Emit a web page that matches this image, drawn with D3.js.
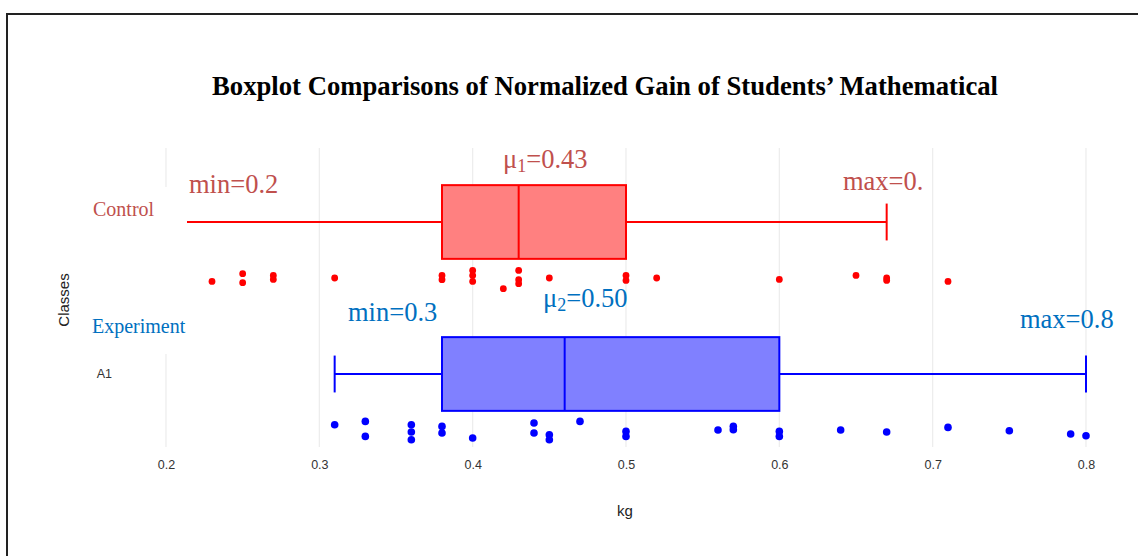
<!DOCTYPE html>
<html>
<head>
<meta charset="utf-8">
<script src="https://cdn.jsdelivr.net/npm/d3@7"></script>
<style>
  body { margin: 0; background: #fff; }
  svg { display: block; }
</style>
</head>
<body>
<div id="chart"></div>
<script>
const W = 1138, H = 556;

// groups and their axis labels
const groups = ["Control", "Experiment"];
const axisLabels = ["", "A1"];
const boxColors = ["#ff0000", "#0000ff"];
const fillColors = ["#ff8080", "#8080ff"];

// box statistics per group: lower whisker, q1, median, q3, upper whisker
const whiskLo = [0.2, 0.31];
const q1s = [0.38, 0.38];
const medians = [0.43, 0.46];
const q3s = [0.5, 0.6];
const whiskHi = [0.67, 0.8];

// raw points (kg) with their jitter (-1..1)
const controlKg = [0.23, 0.25, 0.25, 0.27, 0.27, 0.31, 0.38, 0.38, 0.40, 0.40, 0.40, 0.42,
  0.43, 0.43, 0.43, 0.45, 0.50, 0.50, 0.52, 0.60, 0.65, 0.67, 0.67, 0.71];
const controlJitter = [0.27, -0.5, 0.4, -0.33, 0.07, -0.07, -0.33, 0.1, -0.83, -0.33, 0.27, 1.0,
  -0.83, 0.1, 0.5, -0.07, -0.33, 0.17, -0.07, 0.07, -0.33, -0.07, 0.17, 0.27];
const experimentKg = [0.31, 0.33, 0.33, 0.36, 0.36, 0.36, 0.38, 0.38, 0.40, 0.44, 0.44, 0.45, 0.45,
  0.47, 0.50, 0.50, 0.56, 0.57, 0.57, 0.60, 0.60, 0.64, 0.67, 0.71, 0.75, 0.79, 0.80];
const experimentJitter = [-0.6, -0.93, 0.57, -0.6, 0.13, 0.9, -0.43, 0.23, 0.73, -0.77, 0.23, 0.4, 0.9,
  -0.93, 0.07, 0.57, -0.07, -0.43, -0.1, 0.07, 0.57, -0.07, 0.13, -0.33, 0, 0.33, 0.5];

const xTicks = [0.2, 0.3, 0.4, 0.5, 0.6, 0.7, 0.8];

// hand-written notes over the plot
const notes = [
  {t: "min=0.2", x: 189, y: 193, c: "#c0504d"},
  {t: "μ", sub: "1", rest: "=0.43", x: 503, y: 168, c: "#c0504d"},
  {t: "max=0.", x: 843, y: 190, c: "#c0504d"},
  {t: "min=0.3", x: 348, y: 321, c: "#0070c0"},
  {t: "μ", sub: "2", rest: "=0.50", x: 543, y: 307, c: "#0070c0"},
  {t: "max=0.8", x: 1020, y: 328, c: "#0070c0"}
];

const svg = d3.select("#chart").append("svg")
  .attr("width", W)
  .attr("height", H);

// frame of the pasted figure
svg.append("rect")
  .attr("x", 7).attr("y", 14)
  .attr("width", W + 10).attr("height", H + 10)
  .attr("fill", "#fff")
  .attr("stroke", "#222")
  .attr("stroke-width", 2);

const x = d3.scaleLinear().domain([0.2, 0.8]).range([166, 1086]);
const y = d3.scaleBand().domain(groups).range([146, 450]);
const bw = y.bandwidth();
const boxH = bw * 0.485;
const capH = boxH / 2;
const ptOff = bw * 0.373;
const jitW = 10;

// grid
svg.append("g").selectAll("line")
  .data(xTicks)
  .join("line")
  .attr("x1", d => x(d)).attr("x2", d => x(d))
  .attr("y1", 148).attr("y2", 447)
  .attr("stroke", "#ececec")
  .attr("stroke-width", 1.2);

// x axis
const xAxis = svg.append("g")
  .attr("transform", "translate(0,447)")
  .call(d3.axisBottom(x).tickValues(xTicks).tickSize(0).tickPadding(13).tickFormat(d3.format(".1f")));
xAxis.select(".domain").remove();
xAxis.selectAll("text")
  .attr("fill", "#333")
  .style("font", "12.5px 'Liberation Sans', Arial, sans-serif");

// y axis
const yAxis = svg.append("g")
  .attr("transform", "translate(118,0)")
  .call(d3.axisLeft(y).tickSize(0).tickPadding(6).tickFormat((d, i) => axisLabels[i]));
yAxis.select(".domain").remove();
yAxis.selectAll("text")
  .attr("fill", "#333")
  .style("font", "12.5px 'Liberation Sans', Arial, sans-serif");

svg.append("text")
  .attr("x", 625).attr("y", 516)
  .attr("text-anchor", "middle")
  .attr("fill", "#222")
  .style("font", "15px 'Liberation Sans', Arial, sans-serif")
  .text("kg");

// boxes
const boxes = svg.append("g").selectAll("g")
  .data(groups)
  .join("g")
  .attr("transform", d => `translate(0,${y(d) + bw / 2})`);

boxes.append("line")
  .attr("x1", (d, i) => x(whiskLo[i])).attr("x2", (d, i) => x(q1s[i]))
  .attr("stroke", (d, i) => boxColors[i]).attr("stroke-width", 2);
boxes.append("line")
  .attr("x1", (d, i) => x(q3s[i])).attr("x2", (d, i) => x(whiskHi[i]))
  .attr("stroke", (d, i) => boxColors[i]).attr("stroke-width", 2);
boxes.append("line")
  .attr("x1", (d, i) => x(whiskLo[i])).attr("x2", (d, i) => x(whiskLo[i]))
  .attr("y1", -capH / 2).attr("y2", capH / 2)
  .attr("stroke", (d, i) => boxColors[i]).attr("stroke-width", 2);
boxes.append("line")
  .attr("x1", (d, i) => x(whiskHi[i])).attr("x2", (d, i) => x(whiskHi[i]))
  .attr("y1", -capH / 2).attr("y2", capH / 2)
  .attr("stroke", (d, i) => boxColors[i]).attr("stroke-width", 2);
boxes.append("rect")
  .attr("x", (d, i) => x(q1s[i]))
  .attr("width", (d, i) => x(q3s[i]) - x(q1s[i]))
  .attr("y", -boxH / 2).attr("height", boxH)
  .attr("fill", (d, i) => fillColors[i])
  .attr("stroke", (d, i) => boxColors[i]).attr("stroke-width", 2);
boxes.append("line")
  .attr("x1", (d, i) => x(medians[i])).attr("x2", (d, i) => x(medians[i]))
  .attr("y1", -boxH / 2).attr("y2", boxH / 2)
  .attr("stroke", (d, i) => boxColors[i]).attr("stroke-width", 2);

// points
const pointSets = [
  {kg: controlKg, jit: controlJitter, r: 3.4},
  {kg: experimentKg, jit: experimentJitter, r: 3.8}
];
pointSets.forEach((s, gi) => {
  const cy = y(groups[gi]) + bw / 2 + ptOff;
  svg.append("g").selectAll("circle")
    .data(s.kg)
    .join("circle")
    .attr("cx", d => x(d))
    .attr("cy", (d, i) => cy + s.jit[i] * jitW)
    .attr("r", s.r)
    .attr("fill", boxColors[gi]);
});

// white label boxes pasted over the left side
svg.append("rect")
  .attr("x", 82).attr("y", 187)
  .attr("width", 105).attr("height", 167)
  .attr("fill", "#fff");

svg.append("text")
  .attr("transform", "translate(69,300) rotate(-90)")
  .attr("text-anchor", "middle")
  .attr("fill", "#222")
  .style("font", "15px 'Liberation Sans', Arial, sans-serif")
  .text("Classes");

svg.append("text")
  .attr("x", 93).attr("y", 216)
  .attr("fill", "#c0504d")
  .style("font", "20px 'Liberation Serif', 'Times New Roman', serif")
  .text("Control");
svg.append("text")
  .attr("x", 92).attr("y", 333)
  .attr("fill", "#0070c0")
  .style("font", "20px 'Liberation Serif', 'Times New Roman', serif")
  .text("Experiment");

// title
svg.append("text")
  .attr("x", 605).attr("y", 95)
  .attr("text-anchor", "middle")
  .attr("fill", "#000")
  .style("font", "bold 26.7px 'Liberation Serif', 'Times New Roman', serif")
  .text("Boxplot Comparisons of Normalized Gain of Students’ Mathematical");

// notes
notes.forEach(n => {
  const t = svg.append("text")
    .attr("x", n.x).attr("y", n.y)
    .attr("fill", n.c)
    .style("font", "26.5px 'Liberation Serif', 'Times New Roman', serif");
  t.append("tspan").text(n.t);
  if (n.sub) {
    t.append("tspan").attr("dy", 4).style("font-size", "18px").text(n.sub);
    t.append("tspan").attr("dy", -4).text(n.rest);
  }
});
</script>
</body>
</html>
